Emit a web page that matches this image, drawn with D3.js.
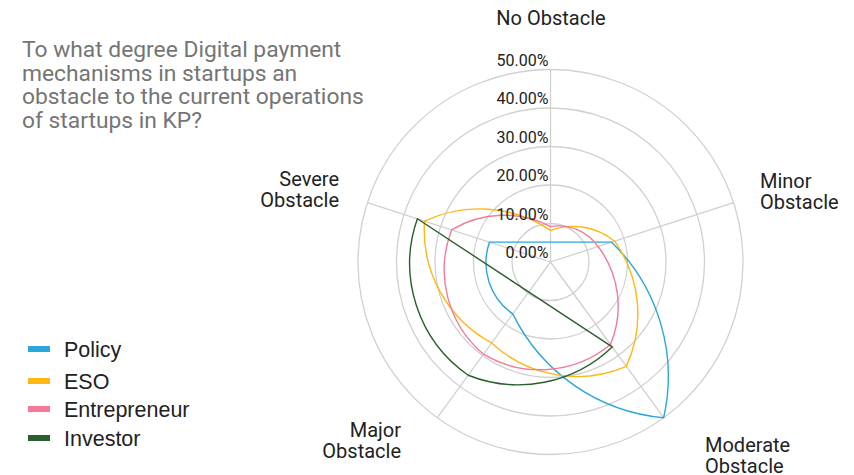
<!DOCTYPE html>
<html>
<head>
<meta charset="utf-8">
<script src="https://cdn.jsdelivr.net/npm/d3@7"></script>
<style>
  body { margin: 0; background: #fff; }
  svg { display: block; }
</style>
</head>
<body>
<script>
"use strict";

// categories round the radar, clockwise from the top
const categories = ["No Obstacle", "Minor Obstacle", "Moderate Obstacle", "Major Obstacle", "Severe Obstacle"];

// series values (share of respondents)
const policy = [0, 0.1667, 0.50, 0.1667, 0.1667];
const eso = [0.082, 0.175, 0.335, 0.26, 0.344];
const entrepreneur = [0.092, 0.13, 0.265, 0.296, 0.27];
const investor = [0, 0, 0.2727, 0.3636, 0.3636];

const seriesNames = ["Policy", "ESO", "Entrepreneur", "Investor"];
const seriesValues = [policy, eso, entrepreneur, investor];
const seriesColors = ["#2ba6d9", "#fdb813", "#f27b98", "#2a5e2c"];

const ticks = [0, 0.1, 0.2, 0.3, 0.4, 0.5];

const title = [
  "To what degree Digital payment",
  "mechanisms in startups an",
  "obstacle to the current operations",
  "of startups in KP?"
];

const width = 854, height = 475;
const cx = 550.5, cy = 262;

const svg = d3.select("body").append("svg")
  .attr("width", width).attr("height", height);

const r = d3.scaleLinear().domain([0, 0.5]).range([0, 192.5]);
const angle = d3.scaleLinear().domain([0, categories.length]).range([0, 2 * Math.PI]);

const px = (i, v) => cx + r(v) * Math.sin(angle(i));
const py = (i, v) => cy - r(v) * Math.cos(angle(i));

// title
svg.append("g")
  .attr("font-family", "Roboto, sans-serif")
  .attr("font-size", 22.8)
  .attr("fill", "#757575")
  .selectAll("text")
  .data(title)
  .join("text")
  .attr("x", 22)
  .attr("y", (d, i) => 57 + i * 23.7)
  .text(d => d);

// grid
const grid = svg.append("g").attr("fill", "none").attr("stroke", "#d0d0d0").attr("stroke-width", 1.3);
grid.selectAll("circle")
  .data(ticks.filter(t => t > 0))
  .join("circle")
  .attr("cx", cx).attr("cy", cy)
  .attr("r", d => r(d));
grid.selectAll("line")
  .data(categories)
  .join("line")
  .attr("x1", cx).attr("y1", cy)
  .attr("x2", (d, i) => px(i, 0.5))
  .attr("y2", (d, i) => py(i, 0.5));

// series: arcs between neighbouring spokes, straight chord across skipped (zero) ones
function seriesPath(values) {
  const pts = values.map((v, i) => ({ i, v })).filter(d => d.v > 0);
  const n = categories.length;
  let d = `M${px(pts[0].i, pts[0].v)},${py(pts[0].i, pts[0].v)}`;
  pts.forEach((a, k) => {
    const b = pts[(k + 1) % pts.length];
    const x = px(b.i, b.v), y = py(b.i, b.v);
    if ((a.i + 1) % n === b.i) {
      const R = Math.max(r(a.v), r(b.v)) * 0.97;
      d += `A${R},${R} 0 0 1 ${x},${y}`;
    } else {
      d += `L${x},${y}`;
    }
  });
  return d + "Z";
}

svg.append("g")
  .attr("fill", "none")
  .attr("stroke-width", 1.4)
  .attr("stroke-linejoin", "miter")
  .selectAll("path")
  .data(seriesValues)
  .join("path")
  .attr("stroke", (d, i) => seriesColors[i])
  .attr("d", d => seriesPath(d));

// radial tick labels
svg.append("g")
  .attr("font-family", "Roboto, sans-serif")
  .attr("font-size", 16)
  .attr("fill", "#222")
  .attr("text-anchor", "end")
  .selectAll("text")
  .data(ticks)
  .join("text")
  .attr("x", cx - 2)
  .attr("y", d => cy - r(d) - 4)
  .text(d => d3.format(".2%")(d));

// category labels, one text per line
const labelLayout = [
  { x: 551, y: 25, anchor: "middle" },
  { x: 760, y: 188, anchor: "start" },
  { x: 705, y: 452, anchor: "start" },
  { x: 401, y: 437, anchor: "end" },
  { x: 339, y: 186, anchor: "end" }
];

const labelLines = categories.flatMap((d, i) =>
  (i === 0 ? [d] : d.split(" ")).map((w, j) => ({ w, i, j })));

svg.append("g")
  .attr("font-family", "Roboto, sans-serif")
  .attr("font-size", 20)
  .attr("fill", "#222")
  .selectAll("text")
  .data(labelLines)
  .join("text")
  .attr("text-anchor", d => labelLayout[d.i].anchor)
  .attr("x", d => labelLayout[d.i].x)
  .attr("y", d => labelLayout[d.i].y + d.j * 20.5)
  .text(d => d.w);

// legend
const legend = svg.append("g")
  .attr("font-family", "'Liberation Sans', Arial, sans-serif")
  .attr("font-size", 21.5)
  .attr("fill", "#222")
  .selectAll("g")
  .data(seriesNames)
  .join("g")
  .attr("transform", (d, i) => `translate(28, ${[349, 381, 409, 438][i]})`);

legend.append("rect")
  .attr("x", 0).attr("y", -3)
  .attr("width", 22).attr("height", 6)
  .attr("fill", (d, i) => seriesColors[i]);

legend.append("text")
  .attr("x", 36)
  .attr("y", 7.5)
  .text(d => d);
</script>
</body>
</html>
